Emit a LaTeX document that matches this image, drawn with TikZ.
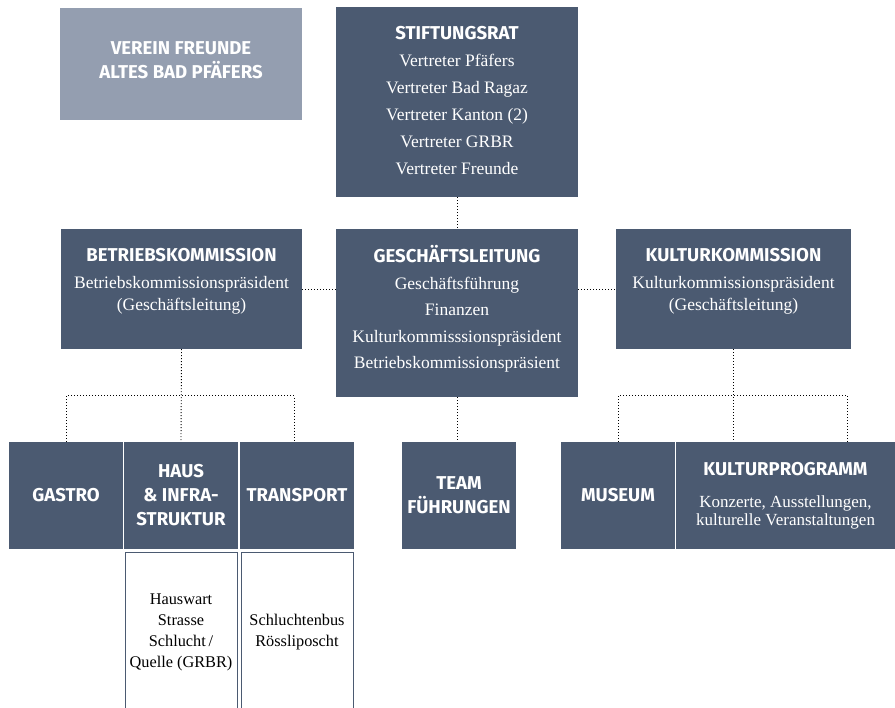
\documentclass[tikz,border=0pt]{standalone}
\usepackage{fontspec}
\setmainfont{Liberation Serif}
\newfontfamily\headsf{Fira Sans}
\usetikzlibrary{positioning}
\definecolor{boxblue}{HTML}{4B5A71}
\definecolor{vereinblue}{HTML}{949EB0}
\newcommand\boxhead[1]{{\headsf\bfseries\fontsize{18.6}{22}\selectfont\rule{0pt}{17pt}#1}}

\begin{document}
\begin{tikzpicture}[x=1pt,y=-1pt]
  \tikzset{
    orgbox/.style={
      rectangle,
      fill=boxblue,
      inner sep=0pt,
      text=white,
      align=center,
      font=\headsf\bfseries\fontsize{18.6}{24}\selectfont
    },
    boxtext/.style={
      inner sep=0pt,
      text=white,
      align=center,
      font=\fontsize{17.5}{22}\selectfont
    },
    subbox/.style={
      rectangle,
      draw=boxblue,
      line width=0.9pt,
      fill=white,
      inner sep=0pt,
      align=center,
      minimum width=112pt,
      minimum height=160pt,
      font=\fontsize{16.3}{21}\selectfont
    },
    link/.style={line width=0.9pt, dash pattern=on 0.9pt off 2.1pt}
  }
  \useasboundingbox (0,0) rectangle (895,708);
  \clip (0,0) rectangle (895,708);

  % top row
  \node[orgbox, fill=vereinblue, minimum width=242pt, minimum height=112pt] (verein) at (181,64) {};
  \node[boxtext, font=\headsf\bfseries\fontsize{18.6}{24}\selectfont] (verein-txt) at (181,60)
    {VEREIN FREUNDE\\ALTES BAD PFÄFERS};
  \node[orgbox, minimum width=242pt, minimum height=190pt] (stiftung) at (457,102) {};
  \node[boxtext, below=15.5pt of stiftung.north] (stiftung-txt)
    {\boxhead{STIFTUNGSRAT}\\[5pt] Vertreter Pfäfers\\[5pt] Vertreter Bad Ragaz\\[5pt]
     Vertreter Kanton (2)\\[5pt] Vertreter GRBR\\[5pt] Vertreter Freunde};

  % middle row
  \node[orgbox, minimum width=241pt, minimum height=120pt] (betrieb) at (181.5,289) {};
  \node[boxtext, below=16pt of betrieb.north] (betrieb-txt)
    {\boxhead{BETRIEBSKOMMISSION}\\[5pt] Betriebskommissionspräsident\\ (Geschäftsleitung)};
  \node[orgbox, minimum width=242pt, minimum height=168pt] (leitung) at (457,313) {};
  \node[boxtext, below=16pt of leitung.north] (leitung-txt)
    {\boxhead{GESCHÄFTSLEITUNG}\\[5pt] Geschäftsführung\\[4.5pt] Finanzen\\[4.5pt]
     Kulturkommisssionspräsident\\[4.5pt] Betriebskommissionspräsient};
  \node[orgbox, minimum width=235pt, minimum height=120pt] (kultur) at (733.5,289) {};
  \node[boxtext, below=16pt of kultur.north] (kultur-txt)
    {\boxhead{KULTURKOMMISSION}\\[5pt] Kulturkommissionspräsident\\ (Geschäftsleitung)};

  % bottom row
  \node[orgbox, minimum width=114pt, minimum height=107pt] (gastro) at (66,495.5) {GASTRO};
  \node[orgbox, minimum width=114pt, minimum height=107pt] (haus) at (181,495.5) {HAUS\\\& INFRA-\\STRUKTUR};
  \node[orgbox, minimum width=114pt, minimum height=107pt] (transport) at (297,495.5) {TRANSPORT};
  \node[orgbox, minimum width=114pt, minimum height=107pt] (team) at (459,495.5) {TEAM\\FÜHRUNGEN};
  \node[orgbox, minimum width=114pt, minimum height=107pt] (museum) at (618,495.5) {MUSEUM};
  \node[orgbox, minimum width=219pt, minimum height=107pt, font=\fontsize{17}{18}\selectfont]
    (programm) at (785.5,495.5)
    {{\headsf\bfseries\fontsize{18.6}{22}\selectfont KULTURPROGRAMM}\\[14pt]
     Konzerte, Ausstellungen,\\ kulturelle Veranstaltungen};

  % detail boxes
  \node[subbox] (haus-sub) at (181,632) {Hauswart\\Strasse\\Schlucht\,/\\Quelle (GRBR)};
  \node[subbox] (transport-sub) at (297,632) {Schluchtenbus\\Rössliposcht};

  % connectors
  \draw[link] (stiftung.south) -- (leitung.north);
  \draw[link] (betrieb.east) -- (betrieb.east -| leitung.west);
  \draw[link] (leitung.east |- kultur.west) -- (kultur.west);
  \draw[link] (betrieb.south) -- (haus.north);
  \draw[link] (gastro.north) -- ++(0,-46) -| ([xshift=-3pt]transport.north);
  \draw[link] (leitung.south) -- (leitung.south |- team.north);
  \draw[link] (kultur.south) -- (kultur.south |- programm.north);
  \draw[link] (museum.north) -- ++(0,-46) -| ([xshift=62pt]programm.north);
\end{tikzpicture}
\end{document}
